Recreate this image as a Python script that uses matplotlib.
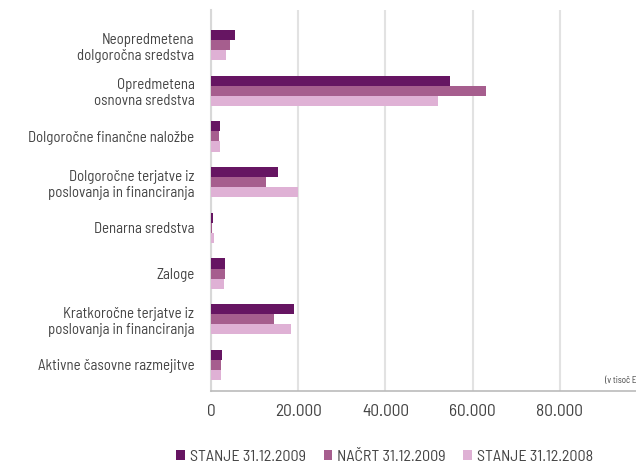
import matplotlib.pyplot as plt
import numpy as np

plt.rcParams['font.family'] = ['Barlow Semi Condensed', 'Roboto Condensed', 'DejaVu Sans']

# Data (v tisoč EUR)
categories = [
    "Neopredmetena\ndolgoročna sredstva",
    "Opredmetena\nosnovna sredstva",
    "Dolgoročne finančne naložbe",
    "Dolgoročne terjatve iz\nposlovanja in financiranja",
    "Denarna sredstva",
    "Zaloge",
    "Kratkoročne terjatve iz\nposlovanja in financiranja",
    "Aktivne časovne razmejitve",
]
stanje_2009 = [5400, 54800, 2100, 15300, 380, 3200, 18950, 2450]
nacrt_2009 = [4350, 63100, 1850, 12550, 230, 3200, 14500, 2150]
stanje_2008 = [3450, 52100, 2050, 20000, 750, 2900, 18350, 2150]
series_names = ["STANJE 31.12.2009", "NAČRT 31.12.2009", "STANJE 31.12.2008"]
colors = ["#661562", "#a65e8e", "#dfb1d5"]

fig = plt.figure(figsize=(6.36, 4.70), dpi=100)
ax = fig.add_axes([0.332, 0.168, 0.685, 0.811])

idx = np.arange(len(categories))
h = 0.22
for k, (vals, name, col) in enumerate(zip([stanje_2009, nacrt_2009, stanje_2008], series_names, colors)):
    ax.barh(idx + (k - 1) * h, vals, height=h, color=col, label=name, zorder=3)

ax.set_xlim(0, 100000)
ax.set_ylim(7.57, -0.77)
ax.set_xticks([0, 20000, 40000, 60000, 80000])
ax.set_xticklabels(["0", "20.000", "40.000", "60.000", "80.000"])
ax.set_yticks(idx)
ax.set_yticklabels(categories, ha='right', multialignment='right')
ax.tick_params(axis='both', length=0, colors='#444444', labelsize=10.7)
ax.tick_params(axis='x', pad=9, labelsize=12.5)
ax.tick_params(axis='y', pad=12)

ax.grid(axis='x', color='#e2e2e2', linewidth=1.5, zorder=0)
for s in ['top', 'right']:
    ax.spines[s].set_visible(False)
ax.spines['left'].set_color('#d8d8d8')
ax.spines['left'].set_linewidth(1.5)
ax.spines['bottom'].set_color('#bbbbbb')
ax.spines['bottom'].set_linewidth(1.2)

ax.text(90300, 7.35, "(v tisoč EUR)", fontsize=6.5, color='#444444', va='center')

ax.legend(loc='upper center', bbox_to_anchor=(0.605, 0.05), bbox_transform=fig.transFigure,
          ncol=3, frameon=False, fontsize=11.5, handlelength=0.55, handleheight=0.55,
          handletextpad=0.3, columnspacing=1.1, labelcolor='#444444',
          borderpad=0.2, borderaxespad=0)

plt.savefig('out.png', dpi=100)
